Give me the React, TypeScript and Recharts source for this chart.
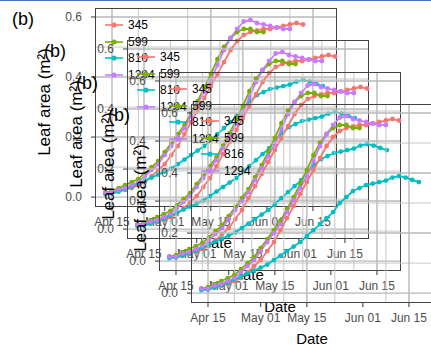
import { ComposedChart, Line, XAxis, YAxis, CartesianGrid } from 'recharts'

// days counted from Apr 15
const days = [-2, 0, 2, 4, 6, 8, 10, 12, 14, 16, 18, 20, 22, 24, 26, 28, 30, 32, 34, 36, 38, 40, 42, 44, 46, 48, 50, 52, 54, 56, 58, 60, 62, 64]

const la345 = [0.015, 0.015, 0.02, 0.025, 0.03, 0.04, 0.05, 0.07, 0.09, 0.11, 0.14, 0.17, 0.21, 0.25, 0.29, 0.33, 0.37, 0.41, 0.45, 0.49, 0.52, 0.54, 0.55, 0.555, 0.56, 0.56, 0.565, 0.57, 0.575, 0.58, 0.575, null, null, null]
const la599 = [0.015, 0.02, 0.03, 0.04, 0.05, 0.06, 0.08, 0.1, 0.12, 0.15, 0.18, 0.21, 0.24, 0.28, 0.32, 0.365, 0.41, 0.46, 0.5, 0.53, 0.55, 0.56, 0.56, 0.55, 0.55, null, null, null, null, null, null, null, null, null]
const la816 = [0.01, 0.012, 0.018, 0.025, 0.035, 0.045, 0.055, 0.065, 0.075, 0.085, 0.095, 0.11, 0.125, 0.14, 0.155, 0.17, 0.19, 0.21, 0.23, 0.25, 0.27, 0.3, 0.32, 0.34, 0.35, 0.36, 0.365, 0.37, 0.375, 0.385, 0.39, 0.385, 0.377, 0.37]
const la1294 = [0.015, 0.015, 0.025, 0.03, 0.04, 0.05, 0.07, 0.09, 0.11, 0.14, 0.17, 0.2, 0.23, 0.27, 0.31, 0.35, 0.39, 0.44, 0.49, 0.53, 0.56, 0.585, 0.59, 0.58, 0.575, 0.57, 0.565, 0.56, 0.56, null, null, null, null, null]

const xTicks = [0, 16, 30, 47, 61]
const xLabels = ['Apr 15', 'May 01', 'May 15', 'Jun 01', 'Jun 15']
const xMinor = [8, 23, 38.5, 54]
const yTicks = [0, 0.2, 0.4, 0.6]
const yMinor = [0.1, 0.3, 0.5]

const series = [
  { key: '345', color: '#F8766D', values: la345 },
  { key: '599', color: '#7CAE00', values: la599 },
  { key: '816', color: '#00BFC4', values: la816 },
  { key: '1294', color: '#C77CFF', values: la1294 },
]

const rows = days.map((d, i) => {
  const r: Record<string, number | null> = { day: d }
  series.forEach((s) => { r[s.key] = s.values[i] })
  return r
})

const tickFont = { fontSize: 12, fill: '#4d4d4d' }

function Panel({ off }: { off: number }) {
  return (
    <div style={{ position: 'absolute', left: off, top: off, width: 345, height: 250 }}>
      <ComposedChart width={345} height={250} data={rows} margin={{ top: 8, right: 8, bottom: 13, left: 0 }}>
        <CartesianGrid stroke="#c8c8c8" strokeWidth={1} verticalValues={xMinor} horizontalValues={yMinor} />
        <CartesianGrid stroke="#b8b8b8" strokeWidth={1.4} verticalValues={xTicks} horizontalValues={yTicks} />
        <XAxis type="number" dataKey="day" domain={[-5.16, 68.3]} allowDataOverflow ticks={xTicks}
          tickFormatter={(v: number) => xLabels[xTicks.indexOf(v)]} tick={tickFont}
          axisLine={false} tickLine={{ stroke: '#333' }} tickSize={4} tickMargin={6} height={30} />
        <YAxis type="number" domain={[-0.033, 0.63]} allowDataOverflow ticks={yTicks}
          tickFormatter={(v: number) => v.toFixed(1)} tick={tickFont}
          axisLine={false} tickLine={{ stroke: '#333' }} tickSize={4} tickMargin={9} width={95} />
        {series.map((s) => (
          <Line key={s.key} dataKey={s.key} stroke={s.color} strokeWidth={1.8}
            dot={{ r: 2.4, fill: s.color, stroke: s.color, strokeWidth: 0 }} activeDot={false}
            isAnimationActive={false} />
        ))}
      </ComposedChart>
      <div style={{ position: 'absolute', left: 95, top: 8, width: 242, height: 199, border: '1px solid #444', boxSizing: 'border-box' }} />
      <div style={{ position: 'absolute', left: 12, top: 10, fontSize: 18, lineHeight: 1 }}>(b)</div>
      <div style={{ position: 'absolute', left: 45, top: 102, fontSize: 17, whiteSpace: 'nowrap', transform: 'translate(-50%, -50%) rotate(-90deg)' }}>
        Leaf area (m²)
      </div>
      <div style={{ position: 'absolute', left: 216, top: 242, fontSize: 15, transform: 'translate(-50%, -50%)' }}>Date</div>
      {series.map((s, k) => (
        <div key={s.key} style={{ position: 'absolute', left: 105, top: 25 + 16.7 * k - 8, height: 16, display: 'flex', alignItems: 'center' }}>
          <svg width={18} height={10}>
            <line x1={0} y1={5} x2={18} y2={5} stroke={s.color} strokeWidth={1.6} />
            <circle cx={9} cy={5} r={2.6} fill={s.color} />
          </svg>
          <span style={{ marginLeft: 5, fontSize: 12 }}>{s.key}</span>
        </div>
      ))}
    </div>
  )
}

export default function App() {
  return (
    <div style={{ position: 'absolute', left: 0, top: 0, width: 431, height: 345, overflow: 'hidden', background: '#fff', fontFamily: '"Liberation Sans", Arial, sans-serif' }}>
      <div style={{ position: 'absolute', left: 0, top: 0, width: 431, height: 1, background: '#4472C4' }} />
      {[0, 1, 2, 3].map((i) => <Panel key={i} off={i * 32} />)}
    </div>
  )
}
